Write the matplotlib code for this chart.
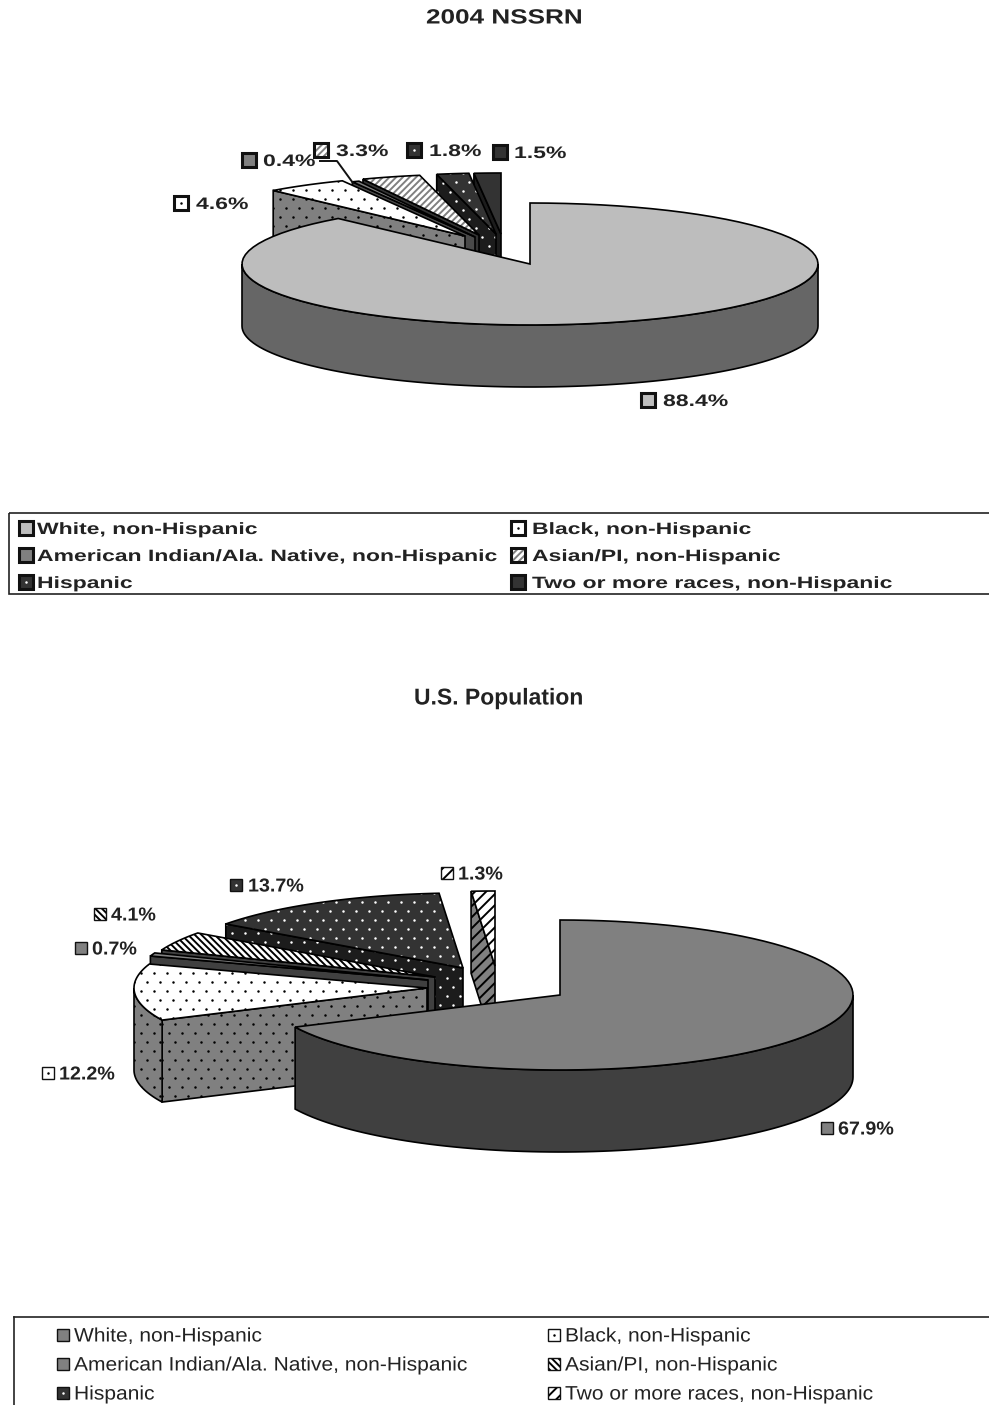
import matplotlib
matplotlib.use("Agg")
import matplotlib.pyplot as plt
import numpy as np
from matplotlib.patches import Polygon, Rectangle
from matplotlib.patheffects import AbstractPathEffect
from matplotlib.transforms import Affine2D

CATEGORIES = [
    "White, non-Hispanic",
    "Black, non-Hispanic",
    "American Indian/Ala. Native, non-Hispanic",
    "Asian/PI, non-Hispanic",
    "Hispanic",
    "Two or more races, non-Hispanic",
]
NSSRN_VALUES = [88.4, 4.6, 0.4, 3.3, 1.8, 1.5]
US_VALUES = [67.9, 12.2, 0.7, 4.1, 13.7, 1.3]

# (top colour, top hatch, top hatch colour, wall colour, wall hatch, wall hatch colour)
NSSRN_STYLES = [
    ("#bdbdbd", None, "k", "#666666", None, "k"),
    ("#ffffff", ".", "#000000", "#808080", ".", "#000000"),
    ("#808080", None, "k", "#4a4a4a", None, "k"),
    ("#ffffff", "/////", "#808080", "#333333", None, "k"),
    ("#333333", ".", "#ffffff", "#1c1c1c", ".", "#ffffff"),
    ("#333333", None, "k", "#1c1c1c", None, "k"),
]
US_STYLES = [
    ("#808080", None, "k", "#404040", None, "k"),
    ("#ffffff", ".", "#000000", "#808080", ".", "#000000"),
    ("#808080", None, "k", "#404040", None, "k"),
    ("#ffffff", "\\\\\\\\\\", "#000000", "#404040", None, "k"),
    ("#333333", ".", "#ffffff", "#1c1c1c", ".", "#ffffff"),
    ("#ffffff", "///", "#000000", "#808080", "///", "#000000"),
]

# pie layout, in pixels: centre of each slice's tip, then radii and depth
NSSRN_PIE = dict(rx=288, ry=61, depth=62)
NSSRN_TIPS = [(530, 264), (465, 236), (475, 237), (479, 235), (496, 234), (501, 234)]
US_PIE = dict(rx=293, ry=75, depth=82)
US_TIPS = [(560, 995), (427, 988), (428, 980), (435, 977), (463, 968), (495, 966)]

# swatch left, text left, y
NSSRN_LABELS = [(641, 663, 400), (174, 196, 203), (242, 263, 160), (314, 336, 150), (407, 429, 150), (493, 514, 152)]
US_LABELS = [(821, 838, 1128), (42, 59, 1073), (75, 92, 948), (94, 111, 914), (230, 248, 885), (441, 458, 873)]

plt.rcParams["hatch.linewidth"] = 1.4


class StretchX(AbstractPathEffect):
    """Widen glyphs about the text anchor, the reference was scaled unevenly."""

    def __init__(self, sx):
        super().__init__()
        self.sx = sx

    def draw_path(self, renderer, gc, tpath, affine, rgbFace=None):
        m = affine.get_matrix().copy()
        m[0, 0] *= self.sx
        m[0, 1] *= self.sx
        renderer.draw_path(gc, tpath, Affine2D(m), rgbFace)


NSSRN_LEGEND_FONT = dict(family="Liberation Sans", fontweight="bold", fontsize=11.8, path_effects=[StretchX(1.40)])
NSSRN_LABEL_FONT = dict(family="Liberation Sans", fontweight="bold", fontsize=12, path_effects=[StretchX(1.38)])
US_LEGEND_FONT = dict(family="Liberation Sans", fontweight="normal", fontsize=14, path_effects=[StretchX(1.08)])
US_LABEL_FONT = dict(family="Liberation Sans", fontweight="bold", fontsize=13.5, path_effects=[StretchX(1.05)])


def fill(ax, pts, fc, hatch=None, hatch_color="k", lw=1.2, zorder=2):
    pts = np.asarray(pts, dtype=float)
    if hatch == ".":
        base = ax.add_patch(Polygon(pts, closed=True, fc=fc, ec="none", zorder=zorder))
        x0, y0 = pts.min(axis=0)
        x1, y1 = pts.max(axis=0)
        rows = np.arange(y0, y1 + 9, 9)
        xs, ys = [], []
        for r, y in enumerate(rows):
            col = np.arange(x0 + (r % 2) * 6.5, x1 + 13, 13)
            xs.extend(col)
            ys.extend([y] * len(col))
        dots = ax.scatter(xs, ys, s=3.2, color=hatch_color, linewidths=0, zorder=zorder)
        dots.set_clip_path(base)
    elif hatch:
        ax.add_patch(Polygon(pts, closed=True, fc=fc, ec=hatch_color, hatch=hatch, lw=0, zorder=zorder))
    else:
        ax.add_patch(Polygon(pts, closed=True, fc=fc, ec="none", zorder=zorder))
    ax.add_patch(Polygon(pts, closed=True, fill=False, ec="#000000", lw=lw, zorder=zorder))


def arc(tip, a0, a1, rx, ry):
    a = np.radians(np.linspace(a0, a1, 90))
    return np.column_stack([tip[0] + rx * np.sin(a), tip[1] - ry * np.cos(a)])


def draw_slice(ax, tip, a0, a1, style, rx, ry, depth, start_wall):
    top_fc, top_h, top_hc, wall_fc, wall_h, wall_hc = style
    down = np.array([0, depth])
    outer = arc(tip, a0, a1, rx, ry)
    if start_wall:
        start = outer[0]
        fill(ax, [tip, start, start + down, np.array(tip) + down], wall_fc, wall_h, wall_hc)
    lo, hi = max(a0, 90), min(a1, 270)
    if lo < hi:
        front = arc(tip, lo, hi, rx, ry)
        fill(ax, np.vstack([front, front[::-1] + down]), wall_fc, wall_h, wall_hc)
    fill(ax, np.vstack([[tip], outer]), top_fc, top_h, top_hc)


def draw_pie(ax, values, styles, tips, rx, ry, depth):
    edges = np.concatenate([[0], np.cumsum(values)]) / np.sum(values) * 360
    for i in range(len(values) - 1, 0, -1):
        draw_slice(ax, tips[i], edges[i], edges[i + 1], styles[i], rx, ry, depth, True)
    draw_slice(ax, tips[0], edges[0], edges[1], styles[0], rx, ry, depth, False)


def swatch(ax, x, y, size, style, lw):
    hatch = style[1] if style[1] != "." else None
    ax.add_patch(Rectangle((x, y - size / 2), size, size, fc=style[0], ec=style[2] if hatch else "none",
                           hatch=hatch, lw=0, zorder=5))
    if style[1] == ".":
        ax.scatter([x + size / 2], [y], s=3.2, color=style[2], linewidths=0, zorder=5)
    ax.add_patch(Rectangle((x, y - size / 2), size, size, fill=False, ec="#111111", lw=lw, zorder=5))


def draw_labels(ax, values, styles, labels, size, lw, font):
    for v, st, (sx, tx, y) in zip(values, styles, labels):
        swatch(ax, sx, y, size, st, lw)
        ax.text(tx, y, f"{v}%", va="center_baseline", ha="left", color="#222222", **font)


def draw_legend(ax, styles, xs_sw, xs_txt, ys, size, lw, font):
    for i, (name, st) in enumerate(zip(CATEGORIES, styles)):
        col, row = i % 2, i // 2
        swatch(ax, xs_sw[col], ys[row], size, st, lw)
        ax.text(xs_txt[col], ys[row], name, va="center_baseline", ha="left", color="#222222", **font)


fig = plt.figure(figsize=(9.89, 14.05), dpi=100)
ax = fig.add_axes([0, 0, 1, 1])
ax.set_xlim(0, 989)
ax.set_ylim(1405, 0)
ax.axis("off")

# top chart
ax.text(426, 18, "2004 NSSRN", ha="left", va="center", family="Liberation Sans",
        fontweight="bold", fontsize=14.8, color="#222222", path_effects=[StretchX(1.27)])
draw_pie(ax, NSSRN_VALUES, NSSRN_STYLES, NSSRN_TIPS, **NSSRN_PIE)
draw_labels(ax, NSSRN_VALUES, NSSRN_STYLES, NSSRN_LABELS, 14, 2.2, NSSRN_LABEL_FONT)
ax.plot([320, 337, 353], [161, 161, 183], color="#111111", lw=1.4, zorder=4)
ax.add_patch(Rectangle((9, 513), 990, 81, fill=False, ec="#222222", lw=1.2))
draw_legend(ax, NSSRN_STYLES, [19, 511], [37, 532], [528, 555, 582], 14, 2.2, NSSRN_LEGEND_FONT)

# bottom chart
ax.text(414, 698, "U.S. Population", ha="left", va="center", family="Liberation Sans",
        fontsize=16.5, color="#222222", fontweight="bold", path_effects=[StretchX(1.0)])
draw_pie(ax, US_VALUES, US_STYLES, US_TIPS, **US_PIE)
draw_labels(ax, US_VALUES, US_STYLES, US_LABELS, 12, 1.0, US_LABEL_FONT)
ax.plot([14, 14], [1317, 1405], color="#222222", lw=1.2)
ax.plot([14, 989], [1317, 1317], color="#222222", lw=1.2)
draw_legend(ax, US_STYLES, [57, 548], [74, 565], [1335, 1364, 1393], 12, 1.0, US_LEGEND_FONT)

fig.savefig("out.png", dpi=100)
